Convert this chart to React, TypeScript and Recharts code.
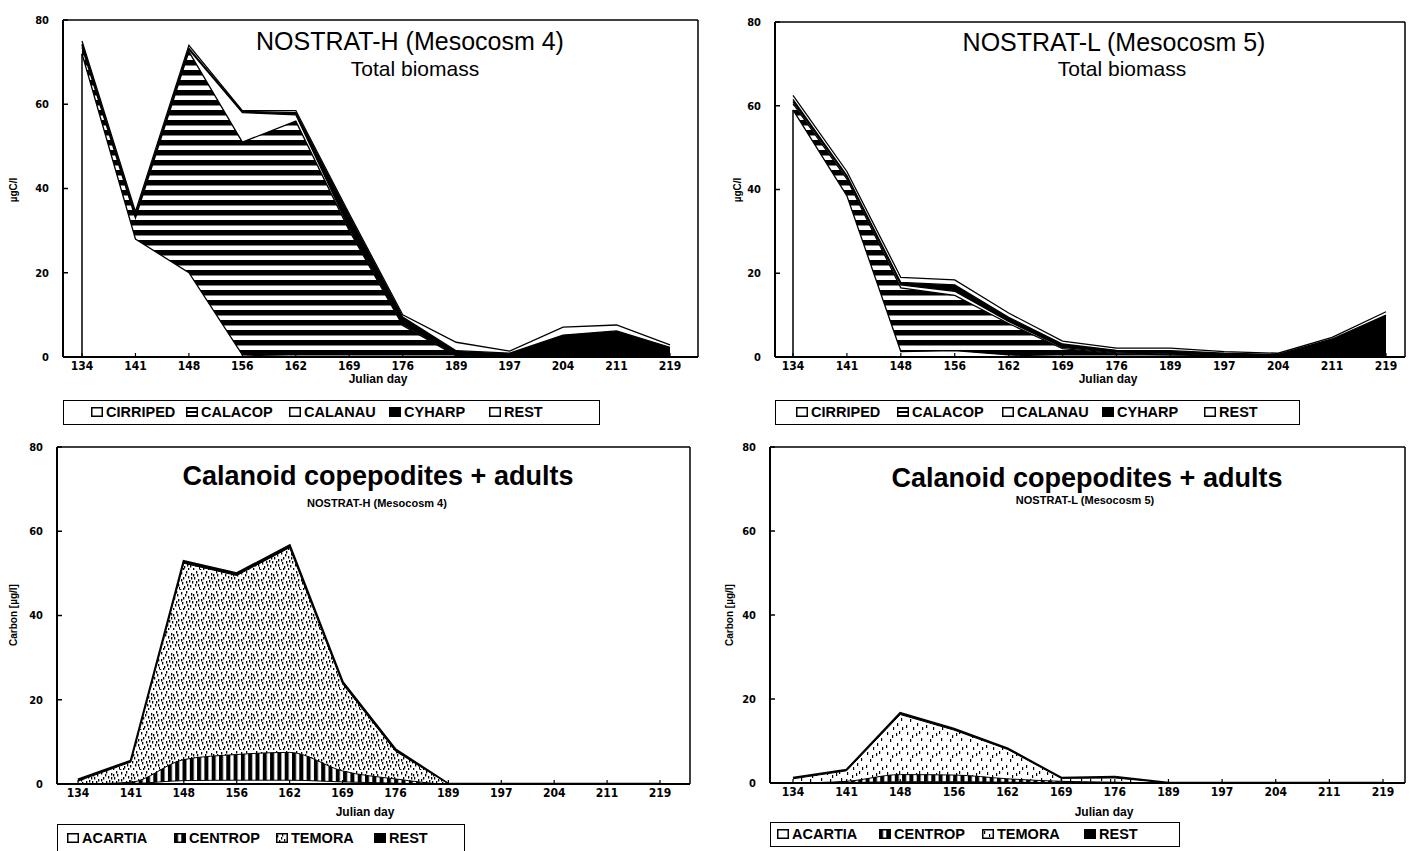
import React from 'react';
import { AreaChart, Area, XAxis, YAxis, CartesianGrid, ReferenceLine } from 'recharts';

// ---------- data ----------
const days = ['134', '141', '148', '156', '162', '169', '176', '189', '197', '204', '211', '219'];
const yTicks = [0, 20, 40, 60, 80];

// NOSTRAT-H (Mesocosm 4) total biomass, µgC/l
const cirripedH = [72, 28, 20, 0.5, 0, 0, 0, 0, 0, 0, 0, 0];
const calacopH = [1.5, 5, 52.5, 50.5, 56, 30, 7.5, 0.3, 0.2, 0, 0, 0];
const calanauH = [0.5, 0.5, 0.5, 7, 1.5, 0.5, 0.3, 0.2, 0, 0, 0, 0];
const cyharpH = [0.3, 0.3, 0.3, 0.3, 0.5, 3, 1.7, 1, 0.7, 5.2, 6.2, 2.3];
const restH = [0.7, 0.7, 0.7, 0.2, 0.5, 0.5, 0.5, 2, 0.5, 1.9, 1.4, 0.6];

// NOSTRAT-L (Mesocosm 5) total biomass, µgC/l
const cirripedL = [59, 38.5, 1.3, 1.5, 0.5, 0, 0, 0, 0, 0, 0, 0];
const calacopL = [1.5, 4, 15.2, 13.2, 7.5, 2, 0.8, 0.5, 0.2, 0.1, 0, 0];
const calanauL = [0.5, 0.5, 0.7, 1, 0.5, 0.3, 0.2, 0.2, 0.1, 0, 0, 0];
const cyharpL = [0.5, 0.3, 0.6, 1.5, 1, 0.8, 0.6, 0.8, 0.6, 0.5, 4.3, 10];
const restL = [1, 1, 1.2, 1.2, 1, 0.7, 0.5, 0.6, 0.4, 0.3, 0.4, 0.8];

// Calanoid copepodites + adults, NOSTRAT-H, Carbon µg/l
const acartiaH = [0, 0.1, 0.8, 0.9, 0.9, 0.5, 0.2, 0, 0, 0, 0, 0];
const centropH = [0, 0.3, 5, 6.1, 6.6, 2.6, 1, 0, 0, 0, 0, 0];
const temoraH = [0.7, 4.8, 46.6, 42.5, 48.6, 20.7, 6.6, 0, 0, 0, 0, 0];
const restCH = [0.3, 0.3, 0.5, 0.5, 0.5, 0.4, 0.4, 0, 0, 0, 0, 0];

// Calanoid copepodites + adults, NOSTRAT-L, Carbon µg/l
const acartiaL = [0, 0.1, 0.3, 0.3, 0.2, 0.1, 0, 0, 0, 0, 0, 0];
const centropL = [0, 0.3, 1.7, 1.6, 0.8, 0.3, 0.2, 0, 0, 0, 0, 0];
const temoraL = [1, 2.5, 14.3, 10.7, 7, 0.7, 1, 0, 0, 0, 0, 0];
const restCL = [0.2, 0.2, 0.3, 0.3, 0.2, 0.1, 0.2, 0, 0, 0, 0, 0];

// ---------- styles ----------
const FONT = "'Liberation Sans', Arial, Helvetica, sans-serif";
const NARROW = "'Liberation Sans Narrow', 'DejaVu Sans Condensed', 'Liberation Sans', Arial, sans-serif";

type Curve = 'linear' | 'monotone';
type Layer = { key: string; name: string; values: number[]; fill: string; curve?: Curve };

const totalLayers = (c: number[], ca: number[], cn: number[], cy: number[], r: number[]): Layer[] => [
  { key: 'cirriped', name: 'CIRRIPED', values: c, fill: '#ffffff' },
  { key: 'calacop', name: 'CALACOP', values: ca, fill: 'url(#hstripe)' },
  { key: 'calanau', name: 'CALANAU', values: cn, fill: '#ffffff' },
  { key: 'cyharp', name: 'CYHARP', values: cy, fill: '#000000' },
  { key: 'rest', name: 'REST', values: r, fill: '#ffffff' },
];

const calLayers = (a: number[], c: number[], t: number[], r: number[], stip: string): Layer[] => [
  { key: 'acartia', name: 'ACARTIA', values: a, fill: '#ffffff', curve: 'monotone' },
  { key: 'centrop', name: 'CENTROP', values: c, fill: 'url(#vstripe)', curve: 'monotone' },
  { key: 'temora', name: 'TEMORA', values: t, fill: stip },
  { key: 'rest', name: 'REST', values: r, fill: '#000000' },
];

function stackTable(layers: Layer[]) {
  return days.map((day, i) => {
    const row: Record<string, number | string> = { day };
    let sum = 0;
    layers.forEach((l) => {
      sum += l.values[i];
      row[l.key] = Math.round(sum * 100) / 100;
    });
    return row;
  });
}

const Y_MARGIN = 14;
const X_MARGIN = 4;

const YTick = (props: any) => {
  const { x, y, payload } = props;
  const ax = x + Y_MARGIN;
  return (
    <g>
      <line x1={ax} x2={ax + 5} y1={y} y2={y} stroke="#000" strokeWidth={1.5} />
      <text x={x} y={y} dy="0.35em" textAnchor="end" fontFamily={NARROW} fontWeight="bold" fontSize={11} fill="#000">
        {payload.value}
      </text>
    </g>
  );
};

const XTick = (props: any) => {
  const { x, y, payload } = props;
  const ay = y - X_MARGIN;
  return (
    <g>
      <line x1={x} x2={x} y1={ay} y2={ay - 4} stroke="#000" strokeWidth={1.2} />
      <text x={x} y={y} dy="0.72em" textAnchor="middle" fontFamily={NARROW} fontWeight="bold" fontSize={12} fill="#000">
        {payload.value}
      </text>
    </g>
  );
};

type TextProps = { x: number; y: number; size: number; weight?: number | string; rotate?: boolean; children: React.ReactNode };
const Txt = ({ x, y, size, weight = 'normal', rotate, children }: TextProps) => (
  <div
    style={{
      position: 'absolute',
      left: x,
      top: y,
      transform: `translate(-50%, -50%)${rotate ? ' rotate(-90deg)' : ''}`,
      fontSize: size,
      fontWeight: weight as any,
      fontFamily: FONT,
      whiteSpace: 'nowrap',
      lineHeight: 1,
      color: '#000',
    }}
  >
    {children}
  </div>
);

type PanelProps = {
  left: number;
  top: number;
  width: number;
  height: number;
  mt: number;
  mr: number;
  yw: number;
  pad: { left: number; right: number };
  layers: Layer[];
  edge?: boolean;
  sw: number;
  topSw?: number;
};

function Panel({ left, top, width, height, mt, mr, yw, pad, layers, edge, sw, topSw }: PanelProps) {
  const data = stackTable(layers);
  const drawOrder = [...layers].reverse();
  const first = layers[0];
  return (
    <div style={{ position: 'absolute', left, top, width, height }}>
      <AreaChart width={width} height={height} data={data} margin={{ top: mt, right: mr, left: 0, bottom: 0 }}>
        <CartesianGrid
          stroke="#000"
          strokeWidth={1.5}
          horizontalCoordinatesGenerator={({ offset }: any) => [offset.top, offset.top + offset.height]}
          verticalCoordinatesGenerator={({ offset }: any) => [offset.left, offset.left + offset.width]}
        />
        {drawOrder.map((l, i) => (
          <Area
            key={l.key}
            type={l.curve ?? 'linear'}
            dataKey={l.key}
            name={l.name}
            fill={l.fill}
            fillOpacity={1}
            stroke="#000"
            strokeWidth={i === 0 && topSw ? topSw : sw}
            dot={false}
            activeDot={false}
            isAnimationActive={false}
          />
        ))}
        {edge && (
          <ReferenceLine
            segment={[
              { x: days[0], y: 0 },
              { x: days[0], y: data[0][first.key] as number },
            ]}
            stroke="#000"
            strokeWidth={1.5}
          />
        )}
        <XAxis
          dataKey="day"
          type="category"
          padding={pad}
          height={33}
          tickSize={0}
          tickMargin={X_MARGIN}
          tickLine={false}
          axisLine={{ stroke: '#000', strokeWidth: 2 }}
          tick={XTick}
          interval={0}
        />
        <YAxis
          type="number"
          domain={[0, 80]}
          ticks={yTicks}
          width={yw}
          tickSize={0}
          tickMargin={Y_MARGIN}
          tickLine={false}
          axisLine={{ stroke: '#000', strokeWidth: 2 }}
          tick={YTick}
          allowDataOverflow
        />
      </AreaChart>
    </div>
  );
}

const LegendIcon = ({ fill }: { fill: string }) => (
  <svg width={12} height={10} style={{ display: 'block' }}>
    <rect x={0.75} y={0.75} width={10.5} height={8.5} fill={fill} stroke="#000" strokeWidth={1.5} />
  </svg>
);

type LegendProps = { x: number; y: number; w: number; h: number; layers: Layer[]; offsets: number[] };
const LegendBox = ({ x, y, w, h, layers, offsets }: LegendProps) => (
  <div
    style={{
      position: 'absolute',
      left: x,
      top: y,
      width: w,
      height: h,
      border: '1.5px solid #000',
      boxSizing: 'border-box',
      background: '#fff',
    }}
  >
    {layers.map((l, i) => (
      <div
        key={l.key}
        style={{
          position: 'absolute',
          left: offsets[i],
          top: 0,
          height: h - 3,
          display: 'flex',
          alignItems: 'center',
          gap: 3,
          fontFamily: FONT,
          fontSize: 14.5,
          fontWeight: 'bold',
          whiteSpace: 'nowrap',
          color: '#000',
        }}
      >
        <LegendIcon fill={l.fill === 'url(#hstripe)' ? 'url(#hstripeS)' : l.fill} />
        <span>{l.name}</span>
      </div>
    ))}
  </div>
);

export default function App() {
  const lH = totalLayers(cirripedH, calacopH, calanauH, cyharpH, restH);
  const lL = totalLayers(cirripedL, calacopL, calanauL, cyharpL, restL);
  const cH = calLayers(acartiaH, centropH, temoraH, restCH, 'url(#stipple)');
  const cL = calLayers(acartiaL, centropL, temoraL, restCL, 'url(#stipple2)');

  return (
    <div style={{ position: 'absolute', left: 0, top: 0, width: 1411, height: 851, background: '#fff', overflow: 'hidden' }}>
      <svg width={0} height={0} style={{ position: 'absolute' }}>
        <defs>
          <pattern id="hstripe" patternUnits="userSpaceOnUse" width={10} height={10}>
            <rect x={0} y={0} width={10} height={10} fill="#fff" />
            <rect x={0} y={0} width={10} height={5.5} fill="#000" />
          </pattern>
          <pattern id="hstripeS" patternUnits="userSpaceOnUse" width={4} height={4}>
            <rect x={0} y={0} width={4} height={4} fill="#fff" />
            <rect x={0} y={0} width={4} height={2} fill="#000" />
          </pattern>
          <pattern id="vstripe" patternUnits="userSpaceOnUse" width={7.3} height={10}>
            <rect x={0} y={0} width={7.3} height={10} fill="#fff" />
            <rect x={0} y={0} width={4} height={10} fill="#000" />
          </pattern>
          <pattern id="stipple" patternUnits="userSpaceOnUse" width={20} height={20}>
            <rect x={0} y={0} width={20} height={20} fill="#fff" />
            {[
              [1, 2], [6, 1], [11, 3], [16, 1], [14, 7], [3, 7], [8, 6], [18, 9], [12, 11], [2, 12],
              [6, 11], [10, 15], [15, 14], [4, 16], [19, 17], [8, 18], [13, 18], [0, 19], [17, 4], [5, 4],
              [9, 10], [16, 11], [1, 9], [13, 4], [7, 14], [18, 14], [11, 7], [3, 18],
            ].map(([px, py], i) => (
              <rect key={i} x={px} y={py} width={1.3} height={2.5} fill="#000" />
            ))}
          </pattern>
          <pattern id="stipple2" patternUnits="userSpaceOnUse" width={20} height={20}>
            <rect x={0} y={0} width={20} height={20} fill="#fff" />
            {[
              [2, 2], [11, 3], [16, 8], [5, 9], [12, 13], [1, 15], [8, 17], [17, 17], [7, 5], [14, 1],
            ].map(([px, py], i) => (
              <rect key={i} x={px} y={py} width={1.2} height={3} fill="#000" />
            ))}
          </pattern>
        </defs>
      </svg>

      {/* Top left: NOSTRAT-H total biomass */}
      <Panel left={0} top={0} width={705} height={390} mt={20} mr={7} yw={63} pad={{ left: 19, right: 28 }} layers={lH} edge sw={1.3} />
      <Txt x={410} y={41} size={25}>NOSTRAT-H (Mesocosm 4)</Txt>
      <Txt x={415} y={68} size={21}>Total biomass</Txt>
      <Txt x={14} y={190} size={10} weight="bold" rotate>µgC/l</Txt>
      <Txt x={378} y={379} size={12} weight="bold">Julian day</Txt>
      <LegendBox x={63} y={400} w={537} h={25} layers={lH} offsets={[27, 122, 225, 325, 425]} />

      {/* Top right: NOSTRAT-L total biomass */}
      <Panel left={705} top={0} width={706} height={390} mt={22} mr={6} yw={70} pad={{ left: 18, right: 19 }} layers={lL} edge sw={1.3} />
      <Txt x={1114} y={42} size={25}>NOSTRAT-L (Mesocosm 5)</Txt>
      <Txt x={1122} y={68} size={21}>Total biomass</Txt>
      <Txt x={738} y={190} size={10} weight="bold" rotate>µgC/l</Txt>
      <Txt x={1108} y={379} size={12} weight="bold">Julian day</Txt>
      <LegendBox x={775} y={400} w={525} h={25} layers={lL} offsets={[20, 121, 226, 326, 428]} />

      {/* Bottom left: Calanoid copepodites, NOSTRAT-H */}
      <Panel left={0} top={430} width={700} height={387} mt={17} mr={10} yw={57} pad={{ left: 21, right: 30 }} layers={cH} sw={1} topSw={2.5} />
      <Txt x={378} y={476} size={27} weight="bold">Calanoid copepodites + adults</Txt>
      <Txt x={377} y={503} size={11} weight="bold">NOSTRAT-H (Mesocosm 4)</Txt>
      <Txt x={14} y={615} size={10} weight="bold" rotate>Carbon [µg/l]</Txt>
      <Txt x={365} y={812} size={12} weight="bold">Julian day</Txt>
      <LegendBox x={57} y={824} w={408} h={28} layers={cH} offsets={[9, 116, 218, 316]} />

      {/* Bottom right: Calanoid copepodites, NOSTRAT-L */}
      <Panel left={705} top={430} width={706} height={386} mt={17} mr={6} yw={65} pad={{ left: 23, right: 22 }} layers={cL} sw={1} topSw={2.5} />
      <Txt x={1087} y={478} size={27} weight="bold">Calanoid copepodites + adults</Txt>
      <Txt x={1085} y={500} size={11} weight="bold">NOSTRAT-L (Mesocosm 5)</Txt>
      <Txt x={730} y={615} size={10} weight="bold" rotate>Carbon [µg/l]</Txt>
      <Txt x={1104} y={812} size={12} weight="bold">Julian day</Txt>
      <LegendBox x={770} y={822} w={410} h={25} layers={cL} offsets={[6, 108, 211, 313]} />
    </div>
  );
}
